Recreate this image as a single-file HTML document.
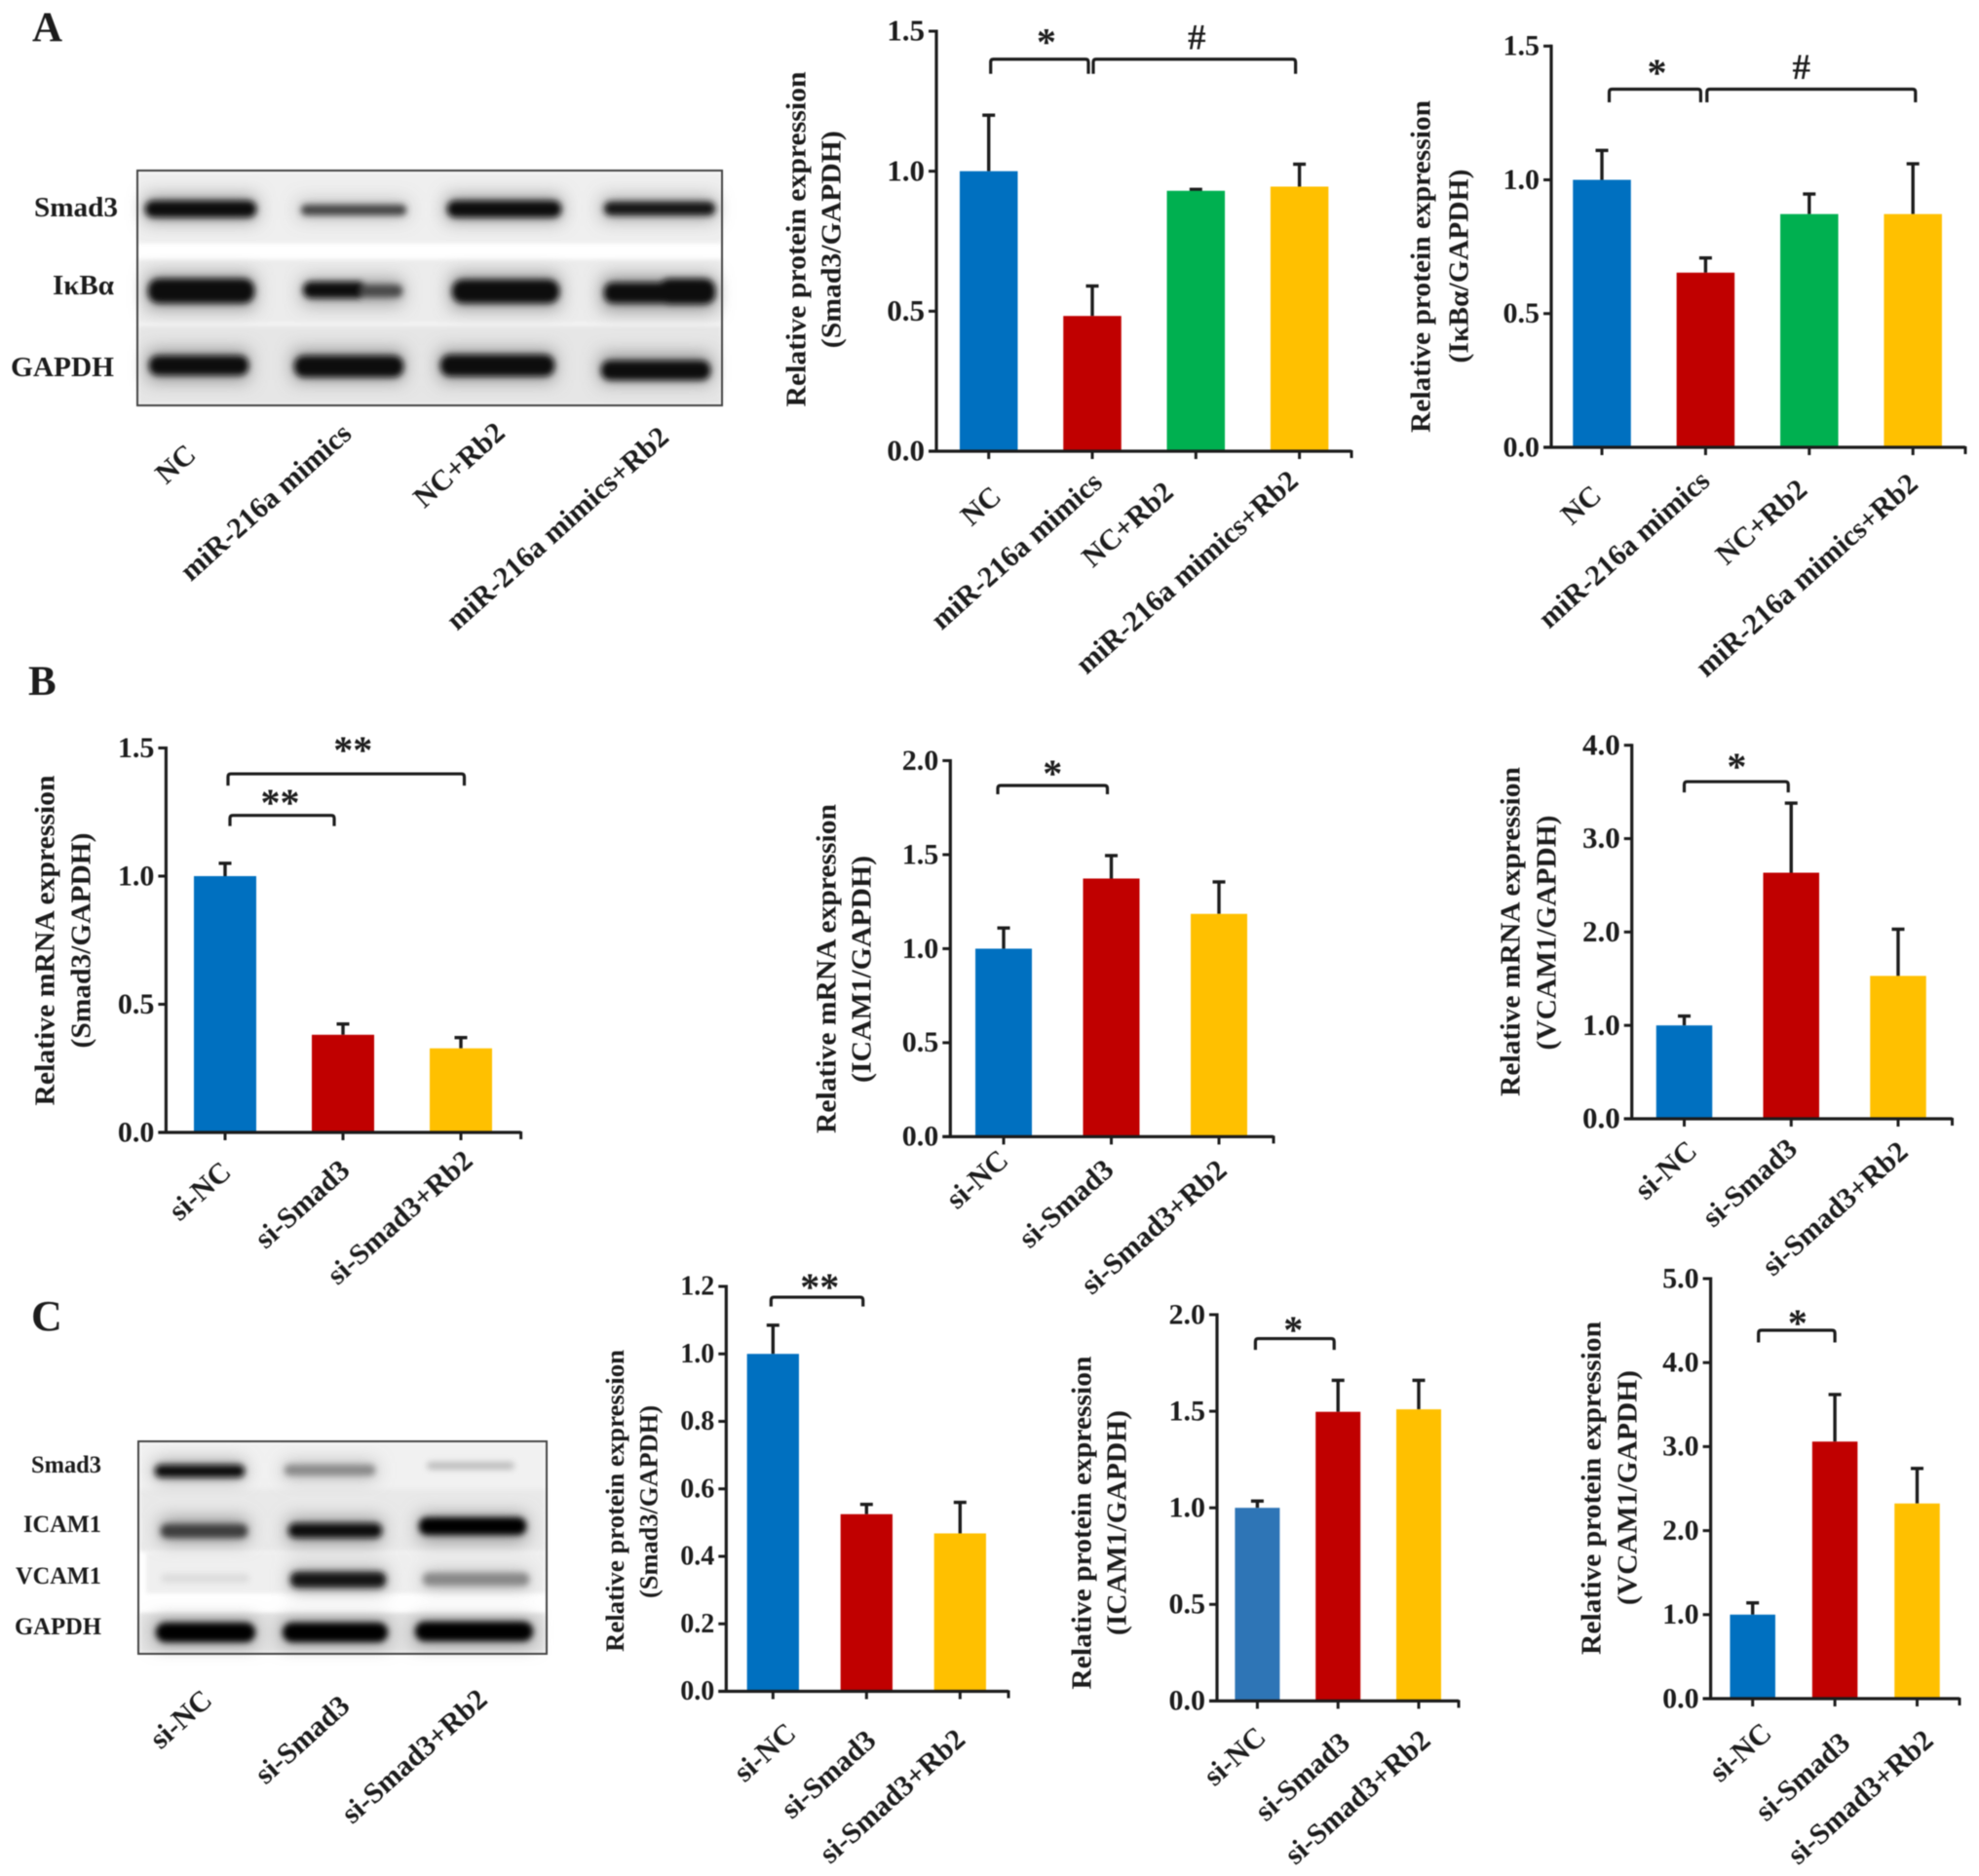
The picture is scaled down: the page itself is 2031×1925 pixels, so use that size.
<!DOCTYPE html>
<html lang="en">
<head>
<meta charset="utf-8">
<title>Relative expression figure</title>
<style>
html,body{margin:0;padding:0;background:#fff;width:2031px;height:1925px;overflow:hidden}
svg{display:block;position:absolute;left:0;top:0;filter:blur(.6px)}
text{font-family:"Liberation Serif","Noto Serif CJK SC",serif;font-weight:bold;fill:#1c1c1c}
</style>
</head>
<body>
<svg id="figure" xmlns="http://www.w3.org/2000/svg" width="2031" height="1925" viewBox="0 0 2031 1925">
<defs>
<filter id="halo" x="-30%" y="-150%" width="160%" height="400%"><feGaussianBlur stdDeviation="9"/></filter>
<filter id="core" x="-10%" y="-60%" width="120%" height="220%"><feGaussianBlur stdDeviation="3.2"/></filter>
<filter id="soft" x="-5%" y="-5%" width="110%" height="110%"><feGaussianBlur stdDeviation="2"/></filter>
</defs>
<rect x="0" y="0" width="2031" height="1925" fill="#fff"/>

<text x="33" y="42" font-size="43">A</text>
<text x="29" y="713" font-size="43">B</text>
<text x="32" y="1365" font-size="44">C</text>

<g>
  <g filter="url(#soft)">
    <rect x="141" y="176" width="600" height="74" fill="#efefef"/>
    <rect x="141" y="266" width="600" height="66" fill="#ececec"/>
    <rect x="141" y="334" width="600" height="82" fill="#e6e6e6"/>
  </g>
  <g filter="url(#halo)" fill="#8c8c8c">
    <rect x="149" y="202" width="114" height="24"/><rect x="306" y="206" width="112" height="18" opacity=".5"/><rect x="458" y="202" width="118" height="24"/><rect x="618" y="203" width="116" height="22" opacity=".8"/>
    <rect x="151" y="282" width="110" height="34"/><rect x="310" y="286" width="103" height="26" opacity=".8"/><rect x="463" y="282" width="111" height="34"/><rect x="618" y="284" width="116" height="34"/>
    <rect x="152" y="360" width="103" height="30"/><rect x="301" y="360" width="113" height="30"/><rect x="451" y="360" width="118" height="30"/><rect x="616" y="364" width="113" height="28"/>
  </g>
  <g filter="url(#core)" fill="#0a0a0a">
    <rect x="149" y="206" width="114" height="17" rx="8"/>
    <rect x="309" y="210" width="108" height="11" rx="5" fill="#454545"/>
    <rect x="459" y="206" width="117" height="17" rx="8"/>
    <rect x="620" y="207" width="114" height="14" rx="7" fill="#151515"/>
    <rect x="152" y="286" width="109" height="25" rx="11"/>
    <rect x="311" y="289" width="65" height="17" rx="8" fill="#111"/>
    <rect x="370" y="292" width="43" height="13" rx="6" fill="#484848"/>
    <rect x="464" y="287" width="110" height="24" rx="11"/>
    <rect x="620" y="290" width="114" height="21" rx="9"/>
    <rect x="676" y="286" width="58" height="26" rx="11"/>
    <rect x="153" y="365" width="102" height="20" rx="9"/>
    <rect x="302" y="365" width="112" height="22" rx="10"/>
    <rect x="452" y="364" width="117" height="22" rx="10"/>
    <rect x="617" y="370" width="112" height="20" rx="9"/>
  </g>
  <rect x="141" y="175" width="600" height="241" fill="none" stroke="#444" stroke-width="2"/>
</g>
<text x="121" y="222" font-size="28" text-anchor="end" textLength="86" lengthAdjust="spacingAndGlyphs">Smad3</text>
<text x="117" y="302" font-size="28" text-anchor="end" textLength="63" lengthAdjust="spacingAndGlyphs">IκBα</text>
<text x="117" y="386" font-size="28" text-anchor="end" textLength="106" lengthAdjust="spacingAndGlyphs">GAPDH</text>

<g>
  <g filter="url(#soft)">
    <rect x="143" y="1480" width="417" height="72" fill="#f1f1f1"/>
    <rect x="143" y="1528" width="417" height="64" fill="#e9e9e9"/>
    <rect x="150" y="1593" width="410" height="42" fill="#efefef"/>
    <rect x="143" y="1655" width="417" height="41" fill="#e2e2e2"/>
  </g>
  <g filter="url(#halo)" fill="#969696">
    <rect x="159" y="1500" width="92" height="18"/><rect x="291" y="1500" width="95" height="18" opacity=".6"/>
    <rect x="165" y="1558" width="89" height="24"/><rect x="295" y="1558" width="97" height="26"/><rect x="430" y="1554" width="110" height="28"/>
    <rect x="298" y="1610" width="98" height="22"/><rect x="434" y="1612" width="109" height="18" opacity=".6"/>
    <rect x="159" y="1662" width="103" height="26"/><rect x="289" y="1662" width="109" height="26"/><rect x="425" y="1662" width="122" height="26"/>
  </g>
  <g filter="url(#core)">
    <rect x="159" y="1503" width="92" height="13" rx="6" fill="#0a0a0a"/>
    <rect x="292" y="1503" width="93" height="11" rx="5" fill="#8a8a8a"/>
    <rect x="438" y="1500" width="90" height="8" rx="4" fill="#bdbdbd"/>
    <rect x="165" y="1564" width="89" height="14" rx="6" fill="#3e3e3e"/>
    <rect x="296" y="1563" width="96" height="15" rx="7" fill="#111"/>
    <rect x="430" y="1557" width="110" height="18" rx="8" fill="#050505"/>
    <rect x="165" y="1615" width="91" height="9" rx="4" fill="#dcdcdc"/>
    <rect x="298" y="1613" width="98" height="16" rx="7" fill="#141414"/>
    <rect x="434" y="1614" width="109" height="13" rx="6" fill="#888"/>
    <rect x="160" y="1665" width="102" height="20" rx="10" fill="#000"/>
    <rect x="290" y="1665" width="108" height="20" rx="10" fill="#000"/>
    <rect x="426" y="1664" width="121" height="20" rx="10" fill="#000"/>
  </g>
  <rect x="142" y="1479" width="419" height="218" fill="none" stroke="#444" stroke-width="2"/>
</g>
<text x="104" y="1511" font-size="25" text-anchor="end" textLength="72" lengthAdjust="spacingAndGlyphs">Smad3</text>
<text x="104" y="1572" font-size="25" text-anchor="end" textLength="80" lengthAdjust="spacingAndGlyphs">ICAM1</text>
<text x="104" y="1625" font-size="25" text-anchor="end" textLength="88" lengthAdjust="spacingAndGlyphs">VCAM1</text>
<text x="104" y="1677" font-size="25" text-anchor="end" textLength="89" lengthAdjust="spacingAndGlyphs">GAPDH</text>
</svg>

<script>
// ---- chart data ----
const a1Categories = ['NC', 'miR-216a mimics', 'NC+Rb2', 'miR-216a mimics+Rb2'];
const blotCCategories = ['si-NC', 'si-Smad3', 'si-Smad3+Rb2'];

const a2Categories = ['NC', 'miR-216a mimics', 'NC+Rb2', 'miR-216a mimics+Rb2'];
const a2Values = [1.0, 0.483, 0.93, 0.945];
const a2ErrorTops = [1.2, 0.59, 0.935, 1.025];
const a2TickLabels = ['0.0', '0.5', '1.0', '1.5'];

const a3Categories = ['NC', 'miR-216a mimics', 'NC+Rb2', 'miR-216a mimics+Rb2'];
const a3Values = [1.0, 0.653, 0.872, 0.872];
const a3ErrorTops = [1.11, 0.708, 0.947, 1.06];
const a3TickLabels = ['0.0', '0.5', '1.0', '1.5'];

const b1Categories = ['si-NC', 'si-Smad3', 'si-Smad3+Rb2'];
const b1Values = [1.0, 0.381, 0.328];
const b1ErrorTops = [1.05, 0.423, 0.37];
const b1TickLabels = ['0.0', '0.5', '1.0', '1.5'];

const b2Categories = ['si-NC', 'si-Smad3', 'si-Smad3+Rb2'];
const b2Values = [1.0, 1.373, 1.185];
const b2ErrorTops = [1.11, 1.495, 1.355];
const b2TickLabels = ['0.0', '0.5', '1.0', '1.5', '2.0'];

const b3Categories = ['si-NC', 'si-Smad3', 'si-Smad3+Rb2'];
const b3Values = [1.0, 2.635, 1.53];
const b3ErrorTops = [1.1, 3.38, 2.03];
const b3TickLabels = ['0.0', '1.0', '2.0', '3.0', '4.0'];

const c1Categories = ['si-NC', 'si-Smad3', 'si-Smad3+Rb2'];
const c1Values = [1.0, 0.525, 0.468];
const c1ErrorTops = [1.085, 0.554, 0.56];
const c1TickLabels = ['0.0', '0.2', '0.4', '0.6', '0.8', '1.0', '1.2'];

const c2Categories = ['si-NC', 'si-Smad3', 'si-Smad3+Rb2'];
const c2Values = [1.0, 1.497, 1.51];
const c2ErrorTops = [1.035, 1.66, 1.66];
const c2TickLabels = ['0.0', '0.5', '1.0', '1.5', '2.0'];

const c3Categories = ['si-NC', 'si-Smad3', 'si-Smad3+Rb2'];
const c3Values = [1.0, 3.06, 2.323];
const c3ErrorTops = [1.14, 3.62, 2.74];
const c3TickLabels = ['0.0', '1.0', '2.0', '3.0', '4.0', '5.0'];

// ---- drawing ----
const NS = 'http://www.w3.org/2000/svg';
const svgRoot = document.getElementById('figure');
const BLUE = '#0070c0', RED = '#c00000', GREEN = '#00b050', YELLOW = '#ffc000', INK = '#1c1c1c';

function mk(parent, tag, attrs, name) {
  const el = document.createElementNS(NS, tag);
  for (const k in attrs) el.setAttribute(k, attrs[k]);
  
  
  parent.appendChild(el);
  return el;
}

function rotatedLabel(parent, text, cx, cy, angle, size, name, len) {
  const attrs = {
    transform: 'translate(' + cx + ',' + cy + ') rotate(' + angle + ')',
    'text-anchor': 'middle', y: size * 0.33, x: 0, 'font-size': size
  };
  if (len) { attrs.textLength = len; attrs.lengthAdjust = 'spacingAndGlyphs'; }
  const t = mk(parent, 'text', attrs, name);
  t.textContent = text;
  return t;
}

function drawChart(c) {
  const g = mk(svgRoot, 'g', {}, 'chart-' + c.id);
  const f = c.frame;
  const yMax = parseFloat(c.ticks[c.ticks.length - 1]);
  const yScale = v => f.y0 - v * (f.y0 - f.yTop) / yMax;
  const xScale = i => f.first + i * f.step;

  c.values.forEach((v, i) => {
    const x = xScale(i), top = yScale(v), errY = yScale(c.errors[i]);
    mk(g, 'line', { x1: x, x2: x, y1: top, y2: errY, stroke: INK, 'stroke-width': 3.4 }, 'error-stem-' + c.id + '-' + i);
    mk(g, 'line', { x1: x - 6.5, x2: x + 6.5, y1: errY, y2: errY, stroke: INK, 'stroke-width': 3.4 }, 'error-cap-' + c.id + '-' + i);
    mk(g, 'rect', { x: x - f.barW / 2, y: top, width: f.barW, height: f.y0 - top, fill: c.colors[i] }, 'bar-' + c.id + '-' + i);
    mk(g, 'line', { x1: x, x2: x, y1: f.y0, y2: f.y0 + 8, stroke: INK, 'stroke-width': 3 }, 'x-tick-' + c.id + '-' + i);
  });

  mk(g, 'line', { x1: f.axisX, x2: f.axisX, y1: f.yTop - 1.5, y2: f.y0 + 1.5, stroke: INK, 'stroke-width': 3.2 }, 'y-axis-' + c.id);
  mk(g, 'line', { x1: f.axisX - 8, x2: f.xEnd, y1: f.y0, y2: f.y0, stroke: INK, 'stroke-width': 3.2 }, 'x-axis-' + c.id);
  mk(g, 'line', { x1: f.xEnd, x2: f.xEnd, y1: f.y0 - 1, y2: f.y0 + 7, stroke: INK, 'stroke-width': 3 }, 'x-axis-end-' + c.id);

  c.ticks.forEach(label => {
    const y = yScale(parseFloat(label));
    mk(g, 'line', { x1: f.axisX - 8, x2: f.axisX, y1: y, y2: y, stroke: INK, 'stroke-width': 3 }, 'y-tick-' + c.id + '-' + label);
    const t = mk(g, 'text', { x: f.axisX - 12, y: y + f.font * 0.31, 'text-anchor': 'end', 'font-size': f.font }, 'y-tick-label-' + c.id + '-' + label);
    t.textContent = label;
  });

  c.titles.forEach((title, i) => {
    rotatedLabel(g, title[0], title[1] - 2, title[2], -90, f.titleFont, 'y-axis-title-' + c.id + '-line' + (i + 1), title[3]);
  });

  c.categories.forEach((cat, i) => {
    rotatedLabel(g, cat, c.labelCenters[i][0] - 2, c.labelCenters[i][1], f.angle, f.labelFont, 'x-label-' + c.id + '-' + i);
  });

  c.brackets.forEach((b, i) => {
    const x1 = xScale(b.from) + b.dx1, x2 = xScale(b.to) + b.dx2;
    const y = yScale(b.level), low = y + b.drop;
    mk(g, 'path', {
      d: 'M' + x1 + ' ' + low + 'V' + (y + 3) + 'Q' + x1 + ' ' + y + ' ' + (x1 + 3) + ' ' + y + 'H' + (x2 - 3) + 'Q' + x2 + ' ' + y + ' ' + x2 + ' ' + (y + 3) + 'V' + low,
      fill: 'none', stroke: INK, 'stroke-width': 3.2
    }, 'significance-bracket-' + c.id + '-' + i);
    const isHash = b.mark === '#';
    const size = isHash ? 37 : 40;
    const t = mk(g, 'text', {
      x: (x1 + x2) / 2 + b.mx, y: y + b.my + (isHash ? 12 : 19), 'text-anchor': 'middle', 'font-size': size
    }, 'significance-mark-' + c.id + '-' + i);
    t.textContent = b.mark;
  });
}

// Blot A / Blot C lane labels share the rotated style
const blotLabels = mk(svgRoot, 'g', {}, 'blot-lane-labels');
const blotACenters = [[180, 476], [272.5, 515], [471, 477], [572, 542]];
const blotCCenters = [[185.5, 1764], [310, 1785], [425, 1802]];
a1Categories.forEach((cat, i) => {
  rotatedLabel(blotLabels, cat, blotACenters[i][0], blotACenters[i][1], -42, 30, 'blot-a-lane-label-' + i);
});
blotCCategories.forEach((cat, i) => {
  rotatedLabel(blotLabels, cat, blotCCenters[i][0], blotCCenters[i][1], -42, 30, 'blot-c-lane-label-' + i);
});

const charts = [
  { id: 'a2', categories: a2Categories, values: a2Values, errors: a2ErrorTops, ticks: a2TickLabels,
    colors: [BLUE, RED, GREEN, YELLOW],
    frame: { axisX: 961, y0: 463, yTop: 32, first: 1014.7, step: 106.3, barW: 59.5, xEnd: 1387, font: 31, titleFont: 29, labelFont: 30, angle: -42 },
    titles: [['Relative protein expression', 819, 245.5, 344], ['(Smad3/GAPDH)', 855, 245.7, 223]],
    labelCenters: [[1008.5, 519], [1045, 565], [1159, 538], [1220, 587]],
    brackets: [
      { from: 0, to: 1, level: 1.4, dx1: 2, dx2: -4, drop: 15, mark: '*', mx: 7, my: -23 },
      { from: 1, to: 3, level: 1.4, dx1: 1, dx2: -4, drop: 15, mark: '#', mx: 2.5, my: -22 }
    ] },
  { id: 'a3', categories: a3Categories, values: a3Values, errors: a3ErrorTops, ticks: a3TickLabels,
    colors: [BLUE, RED, GREEN, YELLOW],
    frame: { axisX: 1592, y0: 459, yTop: 47.3, first: 1644, step: 106.4, barW: 59.5, xEnd: 2017, font: 30, titleFont: 29, labelFont: 30, angle: -42 },
    titles: [['Relative protein expression', 1460, 273.5, 341], ['(IκBα/GAPDH)', 1499, 273, 199]],
    labelCenters: [[1624.5, 518], [1668.5, 563.5], [1809.5, 535.5], [1856, 590]],
    brackets: [
      { from: 0, to: 1, level: 1.339, dx1: 7.5, dx2: -5, drop: 13.5, mark: '*', mx: 2, my: -22.5 },
      { from: 1, to: 3, level: 1.339, dx1: 1.4, dx2: 2.6, drop: 13.5, mark: '#', mx: -10, my: -22.5 }
    ] },
  { id: 'b1', categories: b1Categories, values: b1Values, errors: b1ErrorTops, ticks: b1TickLabels,
    colors: [BLUE, RED, YELLOW],
    frame: { axisX: 170.4, y0: 1162, yTop: 767.5, first: 231, step: 121, barW: 64, xEnd: 534.6, font: 30, titleFont: 28, labelFont: 30, angle: -42 },
    titles: [['Relative mRNA expression', 48, 965, 339], ['(Smad3/GAPDH)', 85, 965, 221]],
    labelCenters: [[207, 1222], [312, 1235.5], [412, 1249]],
    brackets: [
      { from: 0, to: 1, level: 1.237, dx1: 5, dx2: -9, drop: 11, mark: '**', mx: -2, my: -18.6 },
      { from: 0, to: 2, level: 1.399, dx1: 3, dx2: 3.5, drop: 12, mark: '**', mx: 7, my: -30 }
    ] },
  { id: 'b2', categories: b2Categories, values: b2Values, errors: b2ErrorTops, ticks: b2TickLabels,
    colors: [BLUE, RED, YELLOW],
    frame: { axisX: 975.3, y0: 1166.4, yTop: 780.5, first: 1030, step: 110.5, barW: 58, xEnd: 1307, font: 30, titleFont: 28, labelFont: 30, angle: -42 },
    titles: [['Relative mRNA expression', 850, 994, 338], ['(ICAM1/GAPDH)', 886, 994.5, 233]],
    labelCenters: [[1004.7, 1210], [1096, 1235], [1186, 1259]],
    brackets: [
      { from: 0, to: 1, level: 1.868, dx1: -6, dx2: -4, drop: 9, mark: '*', mx: 0, my: -18 }
    ] },
  { id: 'b3', categories: b3Categories, values: b3Values, errors: b3ErrorTops, ticks: b3TickLabels,
    colors: [BLUE, RED, YELLOW],
    frame: { axisX: 1674.7, y0: 1148, yTop: 764.7, first: 1728.5, step: 109.75, barW: 57.5, xEnd: 2003.5, font: 31, titleFont: 28, labelFont: 30, angle: -42 },
    titles: [['Relative mRNA expression', 1552, 956, 338], ['(VCAM1/GAPDH)', 1589, 957, 241]],
    labelCenters: [[1711.5, 1200.5], [1797.5, 1213.5], [1885, 1240]],
    brackets: [
      { from: 0, to: 1, level: 3.61, dx1: 0, dx2: -3, drop: 11, mark: '*', mx: 0.5, my: -21 }
    ] },
  { id: 'c1', categories: c1Categories, values: c1Values, errors: c1ErrorTops, ticks: c1TickLabels,
    colors: [BLUE, RED, YELLOW],
    frame: { axisX: 745.3, y0: 1735.5, yTop: 1320, first: 793.3, step: 96, barW: 53.3, xEnd: 1035, font: 28, titleFont: 26, labelFont: 30, angle: -42 },
    titles: [['Relative protein expression', 633.5, 1540, 310], ['(Smad3/GAPDH)', 668, 1541, 198]],
    labelCenters: [[786.7, 1798], [852, 1820.6], [917.5, 1843]],
    brackets: [
      { from: 0, to: 1, level: 1.168, dx1: -2, dx2: -3.6, drop: 9.6, mark: '**', mx: 2.7, my: -16 }
    ] },
  { id: 'c2', categories: c2Categories, values: c2Values, errors: c2ErrorTops, ticks: c2TickLabels,
    colors: ['#2e75b6', RED, YELLOW],
    frame: { axisX: 1249, y0: 1745.4, yTop: 1349, first: 1290.4, step: 82.8, barW: 46, xEnd: 1497, font: 30, titleFont: 29, labelFont: 30, angle: -42 },
    titles: [['Relative protein expression', 1112, 1562.6, 342], ['(ICAM1/GAPDH)', 1148, 1562.5, 231]],
    labelCenters: [[1269, 1802], [1338.5, 1823], [1395, 1844]],
    brackets: [
      { from: 0, to: 1, level: 1.876, dx1: -2, dx2: -4, drop: 11.5, mark: '*', mx: -1.5, my: -14.5 }
    ] },
  { id: 'c3', categories: c3Categories, values: c3Values, errors: c3ErrorTops, ticks: c3TickLabels,
    colors: [BLUE, RED, YELLOW],
    frame: { axisX: 1755.6, y0: 1743, yTop: 1312, first: 1798.7, step: 84.4, barW: 46.5, xEnd: 2011, font: 30, titleFont: 29, labelFont: 30, angle: -42 },
    titles: [['Relative protein expression', 1635, 1527, 342], ['(VCAM1/GAPDH)', 1672, 1526.5, 241]],
    labelCenters: [[1788, 1798], [1851.8, 1823], [1911, 1844]],
    brackets: [
      { from: 0, to: 1, level: 4.385, dx1: 6, dx2: 0, drop: 12.5, mark: '*', mx: 1, my: -13 }
    ] }
];
charts.forEach(drawChart);
</script>
</body>
</html>
